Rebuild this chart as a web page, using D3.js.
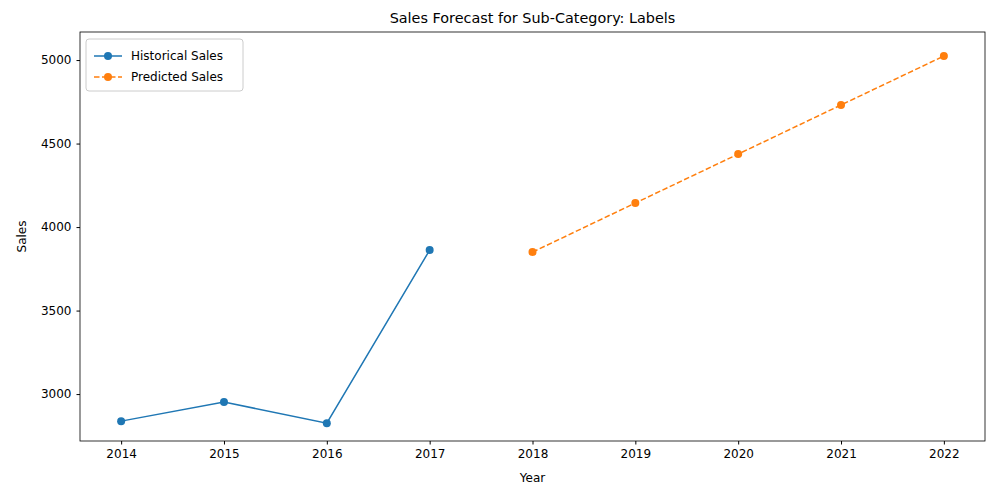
<!DOCTYPE html>
<html><head><meta charset="utf-8">
<script src="https://cdn.jsdelivr.net/npm/d3@7"></script>
<style>body{margin:0;background:#fff}text{font-family:"DejaVu Sans",sans-serif}</style>
</head><body><svg id="c" width="1000" height="500"></svg>
<script>
const histYears=[2014,2015,2016,2017];
const histSales=[2838,2952,2826,3862];
const predYears=[2018,2019,2020,2021,2022];
const predSales=[3850,4144,4437,4731,5024];
const yTicks=[3000,3500,4000,4500,5000];

const svg=d3.select("#c");
const L=80,R=985,T=32,B=441;
const x=d3.scaleLinear().domain([2013.6,2022.4]).range([L,R]);
const y=d3.scaleLinear().domain([2719,5168]).range([B,T]);
const gx=svg.append("g").attr("transform",`translate(0,${B})`)
 .call(d3.axisBottom(x).tickValues(d3.range(2014,2023)).tickFormat(d3.format("d")).tickSizeOuter(0).tickSize(3.5).tickPadding(5));
const gy=svg.append("g").attr("transform",`translate(${L},0)`)
 .call(d3.axisLeft(y).tickValues(yTicks).tickFormat(d3.format("d")).tickSizeOuter(0).tickSize(3.5).tickPadding(5));
[gx,gy].forEach(g=>{g.selectAll("text").attr("font-size",12).attr("fill","#000");g.select(".domain").remove();});
svg.append("rect").attr("x",L).attr("y",T).attr("width",R-L).attr("height",B-T).attr("fill","none").attr("stroke","#000").attr("stroke-width",0.8);
const line=d3.line().x(d=>x(d[0])).y(d=>y(d[1]));
const h=histYears.map((d,i)=>[d,histSales[i]]), p=predYears.map((d,i)=>[d,predSales[i]]);
svg.append("path").attr("d",line(h)).attr("fill","none").attr("stroke","#1f77b4").attr("stroke-width",1.5);
svg.selectAll(".h").data(h).enter().append("circle").attr("cx",d=>x(d[0])).attr("cy",d=>y(d[1])).attr("r",4).attr("fill","#1f77b4");
svg.append("path").attr("d",line(p)).attr("fill","none").attr("stroke","#ff7f0e").attr("stroke-width",1.5).attr("stroke-dasharray","5.5,2.5");
svg.selectAll(".p").data(p).enter().append("circle").attr("cx",d=>x(d[0])).attr("cy",d=>y(d[1])).attr("r",4).attr("fill","#ff7f0e");
svg.append("text").attr("x",(L+R)/2).attr("y",T-9).attr("text-anchor","middle").attr("font-size",14.4).text("Sales Forecast for Sub-Category: Labels");
svg.append("text").attr("x",(L+R)/2).attr("y",482).attr("text-anchor","middle").attr("font-size",12).text("Year");
svg.append("text").attr("transform",`translate(26,${(T+B)/2}) rotate(-90)`).attr("text-anchor","middle").attr("font-size",12).text("Sales");
const lg=svg.append("g").attr("transform","translate(86,39)");
lg.append("rect").attr("width",157).attr("height",52).attr("rx",3).attr("fill","#fff").attr("stroke","#ccc");
[["Historical Sales","#1f77b4",null],["Predicted Sales","#ff7f0e","5.5,2.5"]].forEach((d,i)=>{
 const yy=17+i*21;
 lg.append("line").attr("x1",8).attr("x2",36).attr("y1",yy).attr("y2",yy).attr("stroke",d[1]).attr("stroke-width",1.5).attr("stroke-dasharray",d[2]);
 lg.append("circle").attr("cx",22).attr("cy",yy).attr("r",4).attr("fill",d[1]);
 lg.append("text").attr("x",45).attr("y",yy+4).attr("font-size",12).text(d[0]);
});
</script></body></html>
